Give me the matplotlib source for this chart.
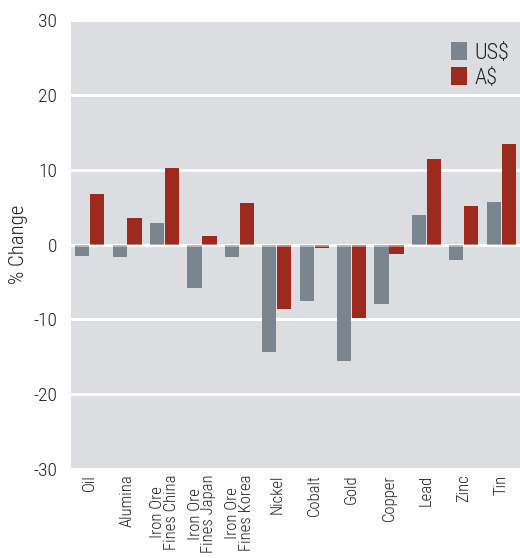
import matplotlib
matplotlib.use("Agg")
import matplotlib.pyplot as plt
import numpy as np
from matplotlib import font_manager

categories = ["Oil", "Alumina", "Iron Ore\nFines China", "Iron Ore\nFines Japan",
              "Iron Ore\nFines Korea", "Nickel", "Cobalt", "Gold", "Copper",
              "Lead", "Zinc", "Tin"]
us_values = [-1.5, -1.6, 2.9, -5.8, -1.6, -14.4, -7.5, -15.6, -7.9, 4.0, -2.0, 5.7]
aud_values = [6.7, 3.5, 10.2, 1.2, 5.5, -8.6, -0.5, -9.8, -1.3, 11.5, 5.2, 13.4]
series_names = ["US$", "A$"]
y_ticks = [-30, -20, -10, 0, 10, 20, 30]

names = {f.name for f in font_manager.fontManager.ttflist}
fam = "Liberation Sans"
for cand in ["Roboto Condensed", "Liberation Sans Narrow", "Open Sans Condensed",
             "Arial Narrow", "DejaVu Sans Condensed"]:
    if cand in names:
        fam = cand
        break
plt.rcParams['font.family'] = [fam, 'DejaVu Sans']
plt.rcParams['font.weight'] = 'light'
plt.rcParams['axes.labelweight'] = 'light'

fig = plt.figure(figsize=(5.2, 5.58), dpi=100)
ax = fig.add_axes([0.1365, 0.1595, 0.8635, 0.8045])
ax.set_facecolor("#dcdde0")

x = np.arange(len(categories))
w = 0.38
ax.bar(x - 0.2, us_values, w, color="#7a8590", label=series_names[0], zorder=3)
ax.bar(x + 0.2, aud_values, w, color="#9e2a1f", label=series_names[1], zorder=3)
ax.axhline(0, color="white", linewidth=2.0, alpha=0.45, zorder=4)

ax.set_ylim(-30, 30)
ax.set_xlim(-0.5, len(categories) - 0.5)
ax.set_yticks(y_ticks)
ax.set_yticklabels([str(t) for t in y_ticks], fontsize=14, color="#222222")
ax.set_xticks(x)
ax.set_xticklabels(categories, rotation=90, fontsize=12, va="top", ha="center",
                   linespacing=0.9, color="#222222")
ax.tick_params(axis="both", length=0, pad=10)
ax.tick_params(axis="x", pad=4)
ax.yaxis.grid(True, color="white", linewidth=2.2, zorder=1)
ax.set_axisbelow(True)
for s in ax.spines.values():
    s.set_visible(False)
ax.set_ylabel("% Change", fontsize=15, labelpad=4, color="#222222", fontweight="light")

leg = ax.legend(loc="upper right", bbox_to_anchor=(1.01, 0.985), frameon=False, fontsize=16,
                handlelength=0.75, handleheight=0.85, handletextpad=0.3, labelspacing=0.15,
                borderaxespad=0.3)
for t in leg.get_texts():
    t.set_color("#222222")

fig.savefig("out.png", dpi=100)
